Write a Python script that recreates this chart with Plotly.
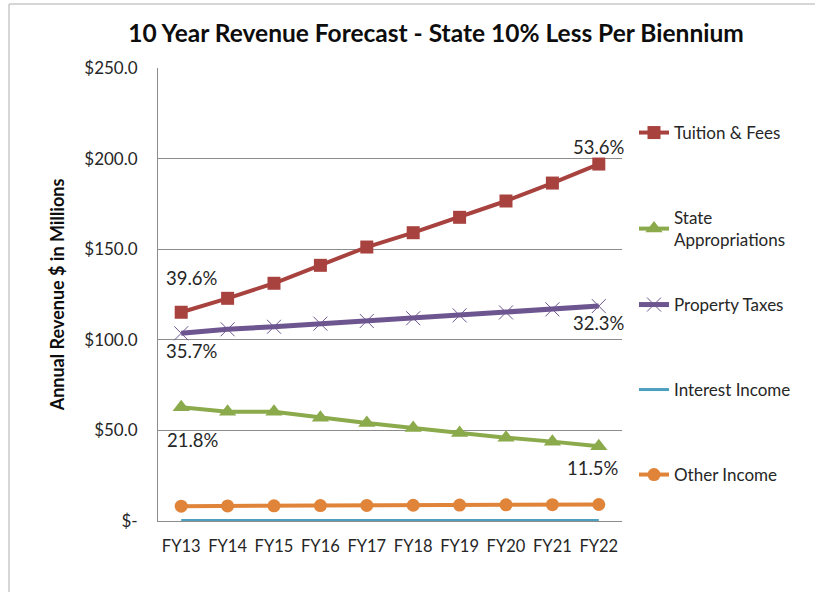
import plotly.graph_objects as go

# Chart data (values in $ millions)
years = ["FY13", "FY14", "FY15", "FY16", "FY17", "FY18", "FY19", "FY20", "FY21", "FY22"]
tuition = [115.2, 122.9, 131.2, 141.1, 151.2, 159.1, 167.6, 176.6, 186.5, 197.0]
state = [62.8, 60.3, 60.3, 57.0, 54.1, 51.3, 48.6, 46.0, 43.8, 41.2]
property_tax = [103.6, 105.8, 107.2, 108.9, 110.4, 111.9, 113.5, 115.1, 116.8, 118.6]
interest = [0.3, 0.3, 0.3, 0.3, 0.3, 0.3, 0.3, 0.3, 0.3, 0.3]
other = [8.2, 8.3, 8.4, 8.5, 8.6, 8.7, 8.8, 8.9, 9.0, 9.1]

# share of total revenue, first and last year
tuition_share = ["39.6%", "53.6%"]
state_share = ["21.8%", "11.5%"]
property_share = ["35.7%", "32.3%"]

y_ticks = [0, 50, 100, 150, 200, 250]

FONT = "Lato"
TXT = "#262626"
GRID = "#8c8c8c"

fig = go.Figure()

series = [
    ("Tuition & Fees", tuition, "#A8423F", dict(symbol="square", size=13), 4, "legend"),
    ("State<br>Appropriations", state, "#8BAA4B", dict(symbol="triangle-up", size=15), 4, "legend2"),
    ("Property Taxes", property_tax, "#6D5590",
     dict(symbol="x-thin-open", size=14, line=dict(width=1, color="#6D5590")), 5, "legend3"),
    ("Interest Income", interest, "#4BA0BF", None, 3, "legend4"),
    ("Other Income", other, "#E0843A", dict(symbol="circle", size=13), 4, "legend5"),
]

for name, vals, color, marker, width, leg in series:
    fig.add_trace(go.Scatter(
        x=years,
        y=vals,
        name=name,
        mode="lines+markers" if marker else "lines",
        line=dict(color=color, width=width),
        marker=dict(color=color, **marker) if marker else None,
        legend=leg,
        hoverinfo="skip",
    ))

# first / last year share labels
labels = [
    (tuition, tuition_share, (11, 34), (0, 17)),
    (property_tax, property_share, (11, -18), (0, -17)),
    (state, state_share, (12, -33), (-6, -22)),
]
for vals, shares, s0, s1 in labels:
    for idx, txt, (dx, dy) in [(0, shares[0], s0), (-1, shares[1], s1)]:
        fig.add_annotation(
            x=years[idx], y=vals[idx], text=txt, showarrow=False,
            xshift=dx, yshift=dy, font=dict(family=FONT, size=18.5, color=TXT),
        )

L, R, T, B = 158, 193, 68, 71
W, H = 815, 592
pw, ph = W - L - R, H - T - B


def px_x(p):
    return (p - L) / pw


def px_y(p):
    return (H - B - p) / ph


# legend placement, one box per series
leg_common = dict(font=dict(family=FONT, size=17, color=TXT), xanchor="left",
                  yanchor="middle", bgcolor="rgba(0,0,0,0)", itemclick=False)
leg_y = {"legend": 133, "legend2": 229, "legend3": 305, "legend4": 390, "legend5": 475}
for key, ypos in leg_y.items():
    fig.update_layout({key: dict(x=px_x(634), y=px_y(ypos), **leg_common)})

# outer chart frame
frame = dict(type="line", xref="paper", yref="paper", line=dict(color="#c8c8c8", width=1.5))
fig.add_shape(x0=px_x(9), x1=px_x(W + 5), y0=px_y(4), y1=px_y(4), **frame)
fig.add_shape(x0=px_x(9), x1=px_x(9), y0=px_y(4), y1=px_y(H + 5), **frame)

fig.update_layout(
    width=W, height=H,
    margin=dict(l=L, r=R, t=T, b=B, autoexpand=False),
    paper_bgcolor="white", plot_bgcolor="white",
    showlegend=True,
    title=dict(
        text="<b>10 Year Revenue Forecast - State 10% Less Per Biennium</b>",
        x=436 / W, xref="container", xanchor="center",
        y=1 - 33 / H, yref="container", yanchor="middle",
        font=dict(family=FONT, size=24.5, color="#0d0d0d"),
    ),
    xaxis=dict(
        range=[-0.5, 9.5], showgrid=False, showline=True, linecolor=GRID, linewidth=1,
        ticks="", tickfont=dict(family=FONT, size=16.5, color=TXT), ticklabelstandoff=10,
        fixedrange=True, automargin=False,
    ),
    yaxis=dict(
        range=[0, 250], tickvals=y_ticks,
        ticktext=["$-" if v == 0 else f"${v:.1f}" for v in y_ticks],
        showgrid=True, gridcolor=GRID, gridwidth=1, zeroline=False,
        showline=True, linecolor=GRID, linewidth=1, ticks="",
        tickfont=dict(family=FONT, size=17, color=TXT), ticklabelstandoff=16,
        title=dict(text="<b>Annual Revenue $ in Millions</b>", standoff=14,
                   font=dict(family=FONT, size=18, color="#0d0d0d")),
        fixedrange=True, automargin=False,
    ),
)

# page body has a default 8px margin; remove it so the chart sits at 0,0
fig.write_html(
    "out.html",
    config={"displayModeBar": False},
    post_script="document.body.style.margin='0';",
)
